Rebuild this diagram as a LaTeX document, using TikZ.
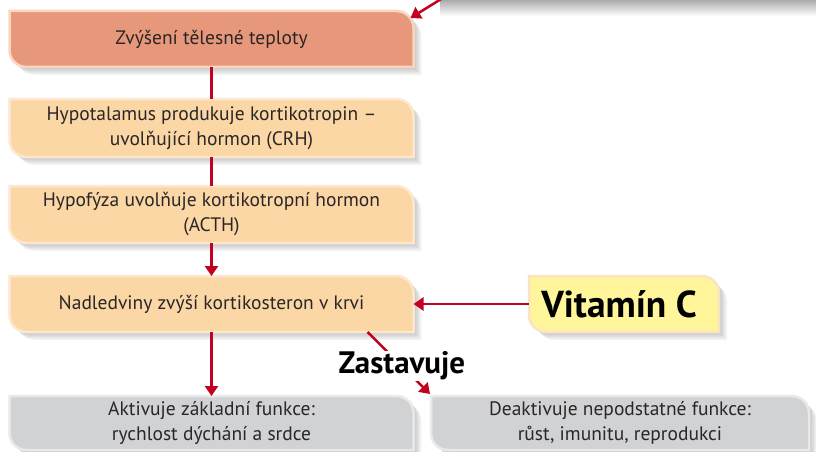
\documentclass[tikz,border=0pt]{standalone}
\usepackage{fontspec}
\setmainfont{PT Sans}
\usetikzlibrary{calc,arrows.meta}
\definecolor{redln}{HTML}{C3001E}
\definecolor{salmon}{HTML}{E8987A}
\definecolor{salmonbd}{HTML}{FAD6C2}
\definecolor{peach}{HTML}{FCD7A6}
\definecolor{peachbd}{HTML}{FDE7CE}
\definecolor{yel}{HTML}{FFF59A}
\definecolor{yelbd}{HTML}{FDE3C6}
\definecolor{gry}{HTML}{D1D2D4}
\definecolor{grybd}{HTML}{E9E9EA}
\definecolor{txt}{HTML}{2A2627}
\pgfdeclarelayer{bg}
\pgfsetlayers{bg,main}
% rounded top-right and bottom-left corners (radius 17), offset #2
\newcommand\boxpath[2]{($(#1.north west)+(#2,#2)$) -- ($(#1.north east)+(#2-17,#2)$) .. controls ($(#1.north east)+(#2-7.6,#2)$) and ($(#1.north east)+(#2,#2+7.6)$) .. ($(#1.north east)+(#2,#2+17)$) -- ($(#1.south east)+(#2,#2)$) -- ($(#1.south west)+(#2+17,#2)$) .. controls ($(#1.south west)+(#2+7.6,#2)$) and ($(#1.south west)+(#2,#2-7.6)$) .. ($(#1.south west)+(#2,#2-17)$) -- cycle}
\newcommand\shapebox[3]{%
  \foreach \k in {2,3.5,5,6.5,8}{\fill[black,opacity=.045] \boxpath{#1}{\k};}
  \path[fill=#2,draw=#3,line width=2.5pt] \boxpath{#1}{0};}
\tikzset{
  boxnode/.style={rectangle,outer sep=0pt,inner sep=0pt,align=center,text=txt,
    font=\fontsize{19.5}{25}\selectfont,minimum width=404pt},
  redline/.style={draw=redln,line width=2.5pt},
  redarrow/.style={redline,-{Triangle[width=13pt,length=10pt]}},
}
\begin{document}
\begin{tikzpicture}[x=1pt,y=-1pt]
\clip (0,0) rectangle (816,452);
\useasboundingbox (0,0) rectangle (816,452);

\node[boxnode,minimum height=56pt] (b1) at (211.5,39) {Zvýšení tělesné teploty};
\node[boxnode,minimum height=58pt] (b2) at (211.5,128) {Hypotalamus produkuje kortikotropin –\\uvolňující hormon (CRH)};
\node[boxnode,minimum height=57pt] (b3) at (211.5,214.5) {Hypofýza uvolňuje kortikotropní hormon\\(ACTH)};
\node[boxnode,minimum height=56pt] (b4) at (211.5,304) {Nadledviny zvýší kortikosteron v krvi};
\node[boxnode,minimum height=54pt] (bA) at (211.5,423) {Aktivuje základní funkce:\\rychlost dýchání a srdce};
\node[boxnode,minimum height=54pt,minimum width=378pt] (bB) at (620,423) {Deaktivuje nepodstatné funkce:\\růst, imunitu, reprodukci};
\node[boxnode,minimum height=56pt,minimum width=190pt,text=black,
  font=\fontsize{37.5}{40}\bfseries\selectfont] (vit) at (624,304) {\hspace*{-10pt}Vitamín C};

\begin{pgfonlayer}{bg}
  \fill[white] (0,0) rectangle (816,452);
  \shade[top color=black!35,bottom color=white] (440,-1) rectangle (816,16);
  \shapebox{b1}{salmon}{salmonbd}
  \shapebox{b2}{peach}{peachbd}
  \shapebox{b3}{peach}{peachbd}
  \shapebox{b4}{peach}{peachbd}
  \shapebox{vit}{yel}{yelbd}
  \shapebox{bA}{gry}{grybd}
  \shapebox{bB}{gry}{grybd}
\end{pgfonlayer}

\coordinate (topsrc) at (446,-4);
\draw[redarrow] (topsrc) -- ($(b1.north east)+(-3,7)$);
\draw[redline] (b1.south) -- (b2.north);
\draw[redline] (b2.south) -- (b3.north);
\draw[redarrow] (b3.south) -- (b4.north);
\draw[redarrow] (vit.west) -- (b4.east);
\draw[redarrow] (b4.south) -- (bA.north);
\draw[redarrow] ($(b4.south east)+(-46,0)$) -- ($(bB.north west)+(-1,-2)$)
  node[pos=0.55,fill=white,inner sep=1pt,text=black,font=\fontsize{31}{32}\bfseries\selectfont] (zast) {Zastavuje};
\end{tikzpicture}
\end{document}
